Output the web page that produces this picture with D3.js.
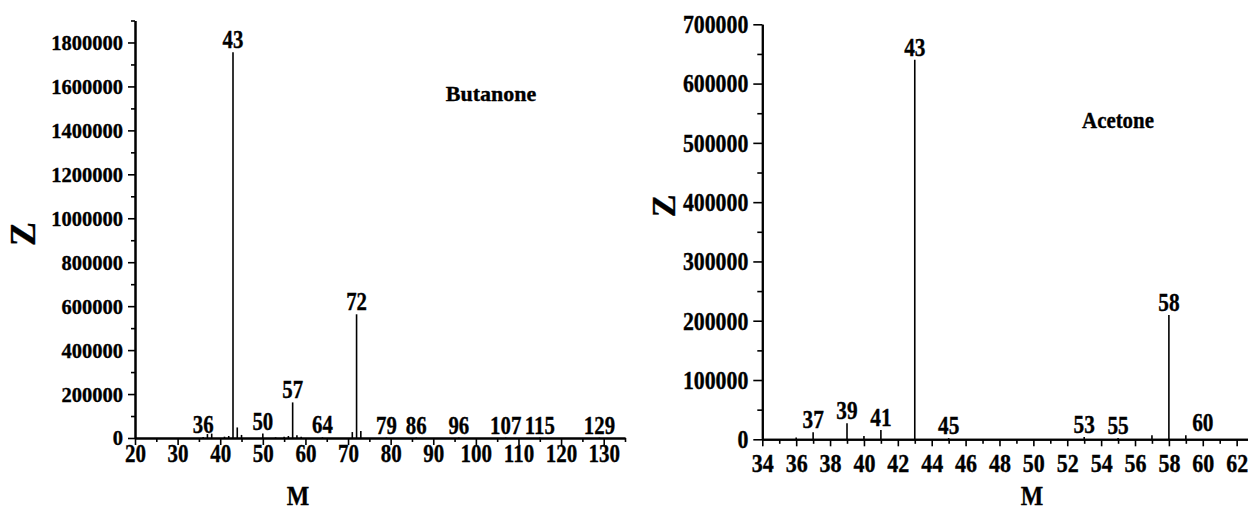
<!DOCTYPE html>
<html><head><meta charset="utf-8">
<script src="https://cdn.jsdelivr.net/npm/d3@7"></script>
<style>
body{margin:0;background:#fff;overflow:hidden}
text{font-family:"Liberation Serif","Times New Roman",serif;font-weight:bold;fill:#000;stroke:#000;stroke-width:0.35px}
</style>
</head><body><svg id="c" width="1248" height="511"></svg>
<script>
// ---- Butanone spectrum (left) ----
const butanoneMz = [36, 37, 38, 41, 42, 43, 44, 45, 50, 53, 55, 56, 57, 58, 59, 64, 71, 72, 73, 79, 86, 96, 107, 115, 129];
const butanoneZ  = [5000, 18000, 20000, 6000, 9000, 1756000, 48000, 14000, 20000, 3000, 6000, 9000, 162000, 12000, 6000, 3000, 27000, 563000, 32000, 2000, 2000, 2000, 2000, 2000, 2000];
const butanoneLabels = [36, 43, 50, 57, 64, 72, 79, 86, 96, 107, 115, 129];
const butanoneXTicks = [20, 30, 40, 50, 60, 70, 80, 90, 100, 110, 120, 130];
const butanoneYTicks = [0, 200000, 400000, 600000, 800000, 1000000, 1200000, 1400000, 1600000, 1800000];

// ---- Acetone spectrum (right) ----
const acetoneMz = [36, 37, 39, 40, 41, 43, 45, 53, 55, 57, 58, 59];
const acetoneZ  = [3000, 11800, 27000, 5500, 15700, 640000, 2000, 4000, 2000, 7000, 209600, 7000];
const acetoneLabels = [37, 39, 41, 43, 45, 53, 55, 58, 60];
const acetoneXTicks = [34, 36, 38, 40, 42, 44, 46, 48, 50, 52, 54, 56, 58, 60, 62];
const acetoneYTicks = [0, 100000, 200000, 300000, 400000, 500000, 600000, 700000];

const svg = d3.select("#c");

function panel(cfg) {
  const g = svg.append("g");
  const x = d3.scaleLinear().domain(cfg.xDomain).range(cfg.xRange);
  const y = d3.scaleLinear().domain(cfg.yDomain).range(cfg.yRange);

  // peaks
  g.selectAll("line.peak").data(cfg.mz.map((m, i) => ({m, v: cfg.z[i]})))
    .enter().append("line")
    .attr("x1", d => x(d.m)).attr("x2", d => x(d.m))
    .attr("y1", y(0)).attr("y2", d => y(d.v))
    .attr("stroke", "#000").attr("stroke-width", 1.6);

  // x axis
  const xMinor = d3.range(cfg.xTicks[0] + cfg.xMinorStep, cfg.xDomain[1] + 0.001, cfg.xMinorStep * 2);
  const xgMin = g.append("g").attr("transform", `translate(0,${y(0)})`)
    .call(d3.axisBottom(x).tickValues(xMinor).tickSize(cfg.xMinorLen).tickFormat("").tickSizeOuter(0));
  const xg = g.append("g").attr("transform", `translate(0,${y(0)})`)
    .call(d3.axisBottom(x).tickValues(cfg.xTicks).tickSize(cfg.xMajorLen).tickSizeOuter(0).tickFormat(d3.format("d")));
  xg.selectAll(".tick text")
    .attr("y", cfg.xLabelBase).attr("dy", null)
    .style("font-size", cfg.xFont + "px")
    .attr("transform", `scale(${cfg.xScale},1)`);

  // y axis
  const ygMin = g.append("g").attr("transform", `translate(${x(cfg.xDomain[0])},0)`)
    .call(d3.axisLeft(y).tickValues(cfg.yMinor).tickSize(cfg.yMinorLen).tickFormat("").tickSizeOuter(0));
  const yg = g.append("g").attr("transform", `translate(${x(cfg.xDomain[0])},0)`)
    .call(d3.axisLeft(y).tickValues(cfg.yTicks).tickSize(cfg.yMajorLen).tickSizeOuter(0).tickFormat(d3.format("d")));
  yg.selectAll(".tick text")
    .attr("x", 0).attr("dy", "0.34em")
    .style("font-size", cfg.yFont + "px")
    .attr("transform", `translate(${-(cfg.yMajorLen + cfg.yPad)},0) scale(${cfg.yScale},1)`);

  [xgMin, xg, ygMin, yg].forEach(a => {
    a.select(".domain").attr("stroke-width", 2);
    a.selectAll(".tick line").attr("stroke-width", 1.6);
  });

  // peak labels
  cfg.labels.forEach(lm => {
    let best = null, bd = Infinity;
    cfg.mz.forEach((m, i) => { const d = Math.abs(m - lm); if (d < bd) { bd = d; best = cfg.z[i]; } });
    const v = bd <= 1 ? best : 0;
    g.append("text")
      .attr("text-anchor", "middle")
      .attr("transform", `translate(${x(lm)},${y(v) - cfg.labelGap}) scale(${cfg.labelScale},1)`)
      .style("font-size", cfg.labelFont + "px")
      .text(lm);
  });

  // compound name
  g.append("text").attr("text-anchor", "middle")
    .attr("transform", `translate(${cfg.name.x},${cfg.name.y}) scale(${cfg.name.sx},1)`)
    .style("font-size", cfg.name.size + "px").text(cfg.name.text);

  // axis titles
  g.append("text").attr("text-anchor", "middle")
    .attr("transform", `translate(${cfg.zTitle.x},${cfg.zTitle.y}) rotate(-90)`)
    .style("font-size", cfg.zTitle.size + "px").text("Z");
  g.append("text").attr("text-anchor", "middle")
    .attr("transform", `translate(${cfg.mTitle.x},${cfg.mTitle.y}) scale(0.85,1)`)
    .style("font-size", cfg.mTitle.size + "px").text("M");
}

panel({
  mz: butanoneMz, z: butanoneZ, labels: butanoneLabels,
  xDomain: [20, 135], xRange: [135, 625], yDomain: [0, 1900000], yRange: [438, 20.5],
  xTicks: butanoneXTicks, xMinorStep: 5, xMajorLen: 7, xMinorLen: 4,
  xLabelBase: 24, xFont: 25, xScale: 0.84,
  yTicks: butanoneYTicks, yMinor: d3.range(100000, 1900001, 200000), yMajorLen: 7, yMinorLen: 4,
  yPad: 5, yFont: 20.5, yScale: 1,
  labelGap: 4, labelFont: 24.5, labelScale: 0.85,
  name: {text: "Butanone", x: 491, y: 101, size: 22, sx: 1},
  zTitle: {x: 35, y: 234, size: 36},
  mTitle: {x: 298, y: 505, size: 28}
});

panel({
  mz: acetoneMz, z: acetoneZ, labels: acetoneLabels,
  xDomain: [34, 63], xRange: [762.3, 1253.6], yDomain: [0, 700000], yRange: [439.3, 24.3],
  xTicks: acetoneXTicks, xMinorStep: 1, xMajorLen: 7, xMinorLen: 4.5,
  xLabelBase: 33, xFont: 25, xScale: 0.88,
  yTicks: acetoneYTicks, yMinor: d3.range(50000, 650001, 100000), yMajorLen: 9, yMinorLen: 5,
  yPad: 5, yFont: 24.5, yScale: 0.89,
  labelGap: 4, labelFont: 24.5, labelScale: 0.87,
  name: {text: "Acetone", x: 1118, y: 128, size: 24, sx: 0.87},
  zTitle: {x: 675, y: 206, size: 34},
  mTitle: {x: 1032, y: 505, size: 28}
});
</script>
</body></html>
